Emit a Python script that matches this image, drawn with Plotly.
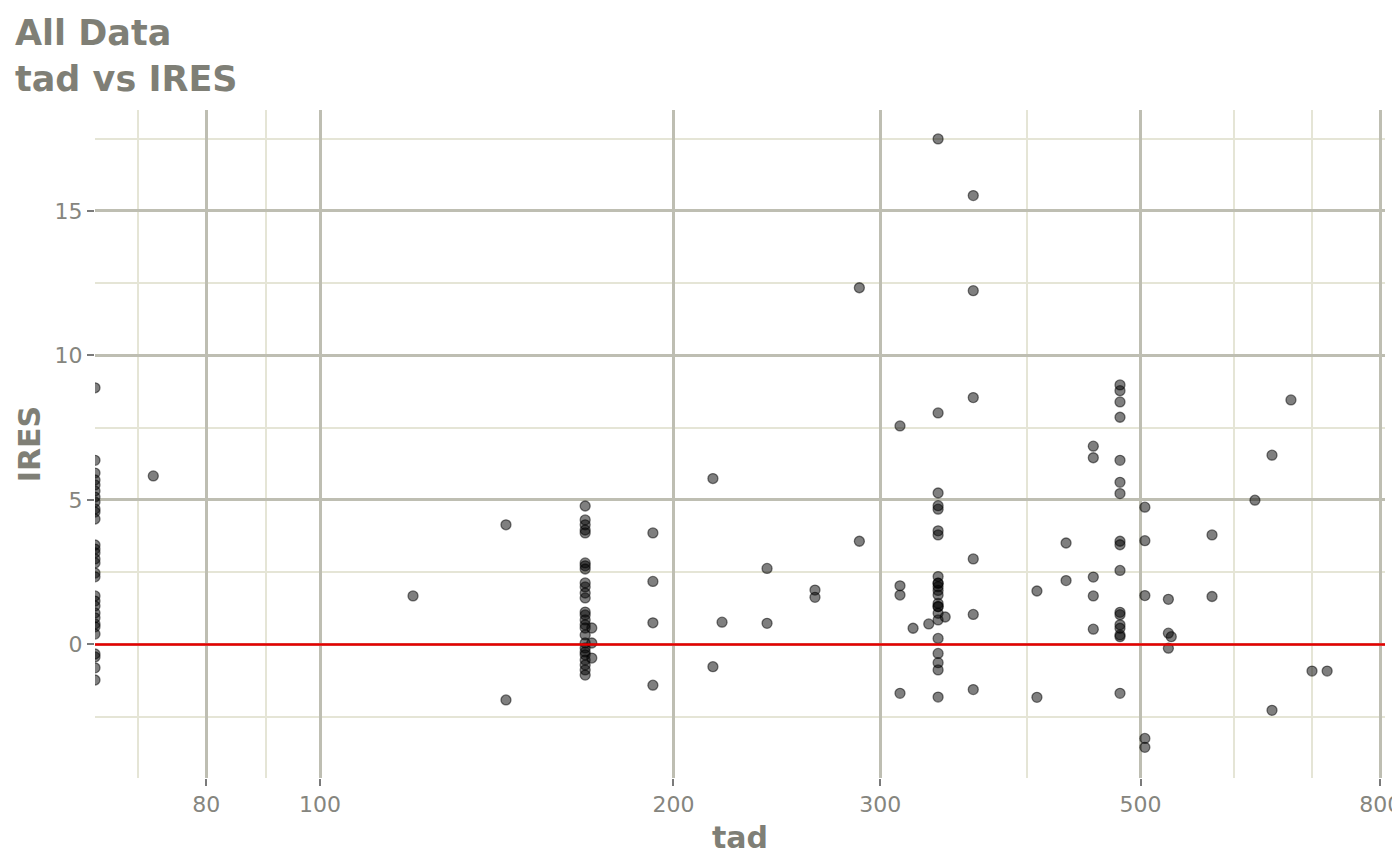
import plotly.graph_objects as go

# tad values are grouped by column of points; IRES values in matching order
tad_groups = [
    (64.31, [8.88, 6.37, 5.93, 5.69, 5.52, 5.31, 5.10, 4.93, 4.69, 4.58, 4.34,
             3.44, 3.30, 3.17, 2.96, 2.82, 2.47, 2.34, 1.68, 1.50, 1.33, 1.09,
             0.92, 0.71, 0.61, 0.36, -0.33, -0.43, -0.81, -1.23]),
    (72.1, [5.83]),
    (120.0, [1.68]),
    (144.0, [4.14, -1.92]),
    (168.2, [4.79, 4.31, 4.14, 3.96, 3.86, 2.82, 2.72, 2.61, 2.13, 1.99, 1.78,
             1.61, 1.12, 1.02, 0.85, 0.68, 0.57, 0.33, 0.05, -0.12, -0.26,
             -0.36, -0.54, -0.71, -0.88, -1.06]),
    (170.4, [0.57, 0.05, -0.47]),
    (192.1, [3.86, 2.18, 0.75, -1.41]),
    (216.1, [5.74, -0.77]),
    (220.0, [0.77]),
    (240.3, [2.63, 0.73]),
    (264.0, [1.88, 1.63]),
    (288.0, [12.34, 3.57]),
    (311.9, [7.56, 2.03, 1.71, -1.69]),
    (320.0, [0.56]),
    (330.0, [0.71]),
    (336.1, [17.49, 8.01, 5.24, 4.80, 4.68, 3.93, 3.79, 2.35, 2.12, 2.12, 2.00,
             1.87, 1.71, 1.42, 1.31, 1.31, 1.08, 0.85, 0.21, -0.31, -0.63,
             -0.88, -1.82]),
    (340.8, [0.95]),
    (360.1, [15.53, 12.24, 8.54, 2.96, 1.04, -1.56]),
    (408.0, [1.85, -1.83]),
    (432.0, [3.51, 2.21]),
    (455.7, [6.86, 6.46, 2.33, 1.68, 0.53]),
    (480.2, [8.98, 8.78, 8.39, 7.86, 6.37, 5.61, 5.22, 3.57, 3.45, 2.56, 1.11,
             1.03, 0.68, 0.56, 0.33, 0.27, -1.69]),
    (504.2, [4.75, 3.59, 1.69, -3.25, -3.56]),
    (528.0, [1.56, 0.39, -0.13]),
    (531.0, [0.27]),
    (575.2, [3.79, 1.66]),
    (625.7, [4.99]),
    (647.0, [6.55, -2.28]),
    (671.5, [8.46]),
    (699.8, [-0.92]),
    (720.9, [-0.92]),
]

tad = [t for t, vals in tad_groups for _ in vals]
ires = [v for _, vals in tad_groups for v in vals]

x_ticks = [80, 100, 200, 300, 500, 800]
x_minor = [70, 90, 400, 600, 700]
y_ticks = [0, 5, 10, 15]
y_minor = [-2.5, 2.5, 7.5, 12.5, 17.5]

title_color = '#7f7f76'
tick_color = '#85857e'
major_grid = '#bebeb2'
minor_grid = '#e5e5d6'

# page body has an 8px margin, so the figure starts 8px in
W, H = 1392, 849

fig = go.Figure()
fig.add_trace(go.Scatter(
    x=tad, y=ires, mode='markers',
    marker=dict(size=10, color='rgba(0,0,0,0.5)',
                line=dict(width=1.3, color='rgba(0,0,0,0.5)')),
    showlegend=False, hoverinfo='x+y'
))
fig.add_hline(y=0, line_color='#e60000', line_width=2.4)

fig.update_layout(
    width=W, height=H,
    plot_bgcolor='white', paper_bgcolor='white',
    margin=dict(l=87, r=15, t=102, b=79),
    font=dict(family='DejaVu Sans', color=tick_color),
    title=dict(
        text='<b>All Data<br>tad vs IRES</b>',
        font=dict(size=35, color=title_color, family='DejaVu Sans'),
        xref='container', yref='container', x=7 / W, xanchor='left',
        y=1 - 37 / H, yanchor='top'
    ),
)
fig.update_xaxes(
    type='log', range=[1.80828, 2.90716], automargin=False,
    tickvals=x_ticks, ticktext=[str(v) for v in x_ticks],
    tickfont=dict(size=22, color=tick_color), ticklabeloverflow='allow',
    ticks='outside', ticklen=7, tickwidth=2, tickcolor='#7a7a7a',
    showgrid=True, gridcolor=major_grid, gridwidth=2.5,
    minor=dict(tickvals=x_minor, showgrid=True, gridcolor=minor_grid,
               gridwidth=2.2, ticks=''),
    zeroline=False, showline=False,
    title=dict(text='<b>tad</b>', font=dict(size=30, color=title_color), standoff=10),
)
fig.update_yaxes(
    range=[-4.62, 18.49], automargin=False,
    tickvals=y_ticks, ticktext=[str(v) for v in y_ticks],
    tickfont=dict(size=22, color=tick_color),
    ticks='outside', ticklen=7, tickwidth=2, tickcolor='#7a7a7a',
    showgrid=True, gridcolor=major_grid, gridwidth=2.5,
    minor=dict(tickvals=y_minor, showgrid=True, gridcolor=minor_grid,
               gridwidth=2.2, ticks=''),
    zeroline=False, showline=False,
    title=dict(text='<b>IRES</b>', font=dict(size=30, color=title_color), standoff=5),
)

fig.write_html("out.html")
